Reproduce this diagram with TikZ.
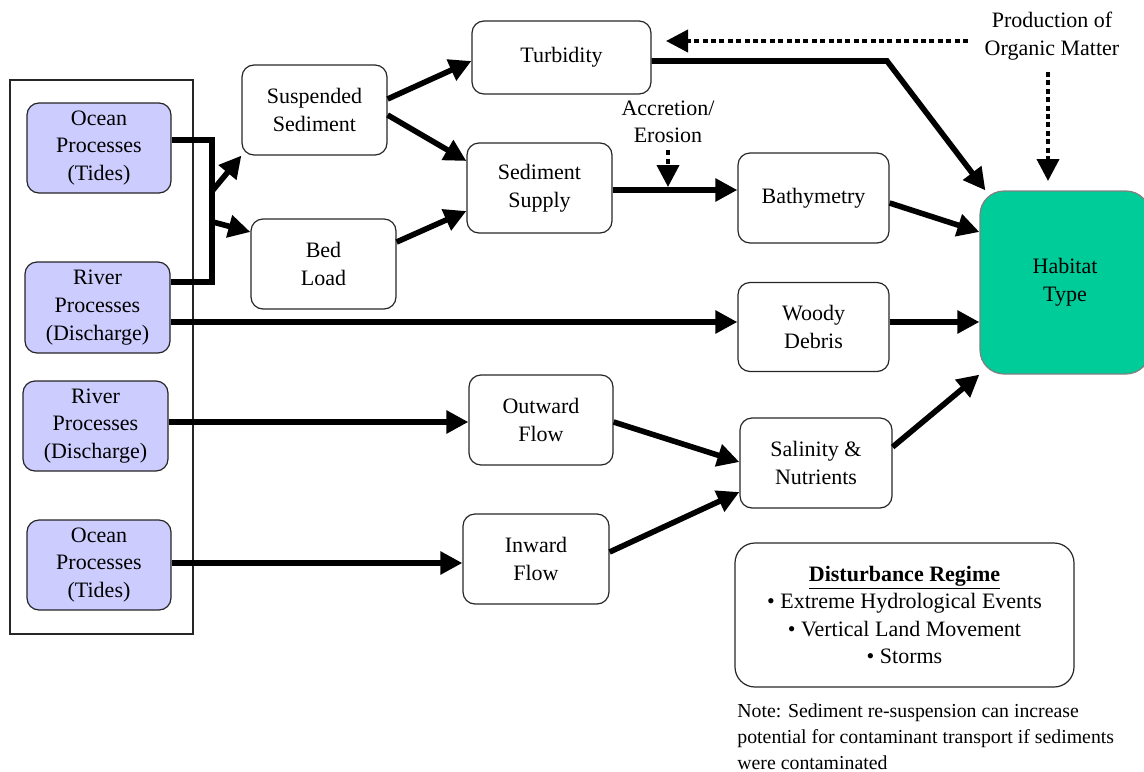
\documentclass[tikz,border=0pt]{standalone}
\usepackage{fontspec}
\setmainfont{LiberationSerif}[Extension=.ttf,UprightFont=*-Regular,BoldFont=*-Bold,ItalicFont=*-Italic,BoldItalicFont=*-BoldItalic]
\usetikzlibrary{arrows.meta}
\definecolor{procblue}{HTML}{CCCCFF}
\definecolor{habgreen}{HTML}{00CC99}

\begin{document}
\begin{tikzpicture}[x=0.5pt,y=-0.5pt,font=\fontsize{11}{13.8}\selectfont,
    box/.style={draw=black!85,line width=0.6pt,rounded corners=6pt,align=center,inner sep=0pt},
    proc/.style={box,fill=procblue},
    wh/.style 2 args={minimum width=#1,minimum height=#2},
    flow/.style={line width=2.8pt,-{Triangle[length=11pt,width=11pt]}},
    dots/.style={line width=2pt,dash pattern=on 2.5pt off 1.7pt,-{Triangle[length=11pt,width=11pt]}}]
  \useasboundingbox (0,0) rectangle (1144,771);

  \draw[draw=black!85,line width=0.6pt] (10,80) rectangle (193,634);
  \node[proc,wh={72pt}{45pt}] (ocean1) at (99,148) {Ocean\\Processes\\(Tides)};
  \node[proc,wh={72.5pt}{45.5pt}] (river1) at (97.5,307.5) {River\\Processes\\(Discharge)};
  \node[proc,wh={72.5pt}{45pt}] (river2) at (95.5,426) {River\\Processes\\(Discharge)};
  \node[proc,wh={72pt}{45pt}] (ocean2) at (99,565) {Ocean\\Processes\\(Tides)};

  \node[box,wh={72.5pt}{45pt}] (susp) at (314.5,110) {Suspended\\Sediment};
  \node[box,wh={72.5pt}{45pt}] (bed) at (323.5,264) {Bed\\Load};
  \node[box,wh={89.5pt}{36.5pt}] (turb) at (561.5,57.5) {Turbidity};
  \node[box,wh={72.5pt}{45pt}] (sed) at (539.5,188) {Sediment\\Supply};
  \node[box,wh={75.5pt}{45pt}] (bath) at (813.5,198) {Bathymetry};
  \node[box,wh={75.5pt}{44.5pt}] (woody) at (813.5,327) {Woody\\Debris};
  \node[box,wh={72pt}{45pt}] (out) at (541,420) {Outward\\Flow};
  \node[box,wh={76pt}{45pt}] (sal) at (816,463) {Salinity \&\\Nutrients};
  \node[box,wh={73pt}{45pt}] (in) at (536,559) {Inward\\Flow};
  \node[box,draw=black!50,fill=habgreen,rounded corners=12pt,wh={85pt}{91.5pt}] (hab) at (1065,282.5) {Habitat\\Type};

  \node[align=center] (acc) at (668,122) {Accretion/\\Erosion};
  \node[align=center] (prod) at (1052,36) {Production of\\Organic Matter};

  \node[box,rounded corners=10pt,wh={169.5pt}{72pt}] (dist) at (904.5,615)
    {\underline{\textbf{Disturbance Regime}}\\\textbullet{} Extreme Hydrological Events\\\textbullet{} Vertical Land Movement\\\textbullet{} Storms};
  \node[anchor=north west,align=left,inner sep=0pt,font=\fontsize{9.9}{13}\selectfont] (note) at (737,703)
    {Note: Sediment re-suspension can increase\\potential for contaminant transport if sediments\\were contaminated};

  % ocean and river join
  \coordinate (jtop) at (212,140);
  \coordinate (jbot) at (212,282);
  \draw[line width=2.8pt] (ocean1.east |- jtop) -- (jtop) -- (jbot) -- (river1.east |- jbot);
  \draw[flow] (213,190) -- (susp.south west);
  \draw[flow] (213,222) -- (bed.west |- 0,232);

  \draw[flow] (susp.east |- 0,99) -- (turb.west |- 0,61);
  \draw[flow] (susp.east |- 0,115) -- (sed.west |- 0,161);
  \draw[flow] (bed.east |- 0,242) -- (sed.west |- 0,211);
  \draw[flow] (river1.east |- 0,322) -- (woody.west |- 0,322);
  \draw[flow] (turb.east |- 0,61) -- (887,61) -- ([xshift=3pt]hab.north west);
  \draw[flow] (sed.east |- 0,190) -- (bath.west |- 0,190);
  \draw[flow] (bath.east |- 0,203) -- (hab.west |- 0,232);
  \draw[flow] (woody.east |- 0,322) -- (hab.west |- 0,322);
  \draw[flow] (sal.east |- 0,447) -- (hab.south west);
  \draw[flow] (river2.east |- 0,422) -- (out.west |- 0,422);
  \draw[flow] (ocean2.east |- 0,563) -- (in.west |- 0,563);
  \draw[flow] (out.east |- 0,422) -- (sal.west |- 0,462);
  \draw[flow] (in.east |- 0,552) -- (sal.west |- 0,492);

  \draw[dots] (968,41) -- (666,41);
  \draw[dots] (1048,72) -- (1048,181);
  \draw[dots] (acc.south) -- (acc.south |- 0,187);
\end{tikzpicture}
\end{document}
